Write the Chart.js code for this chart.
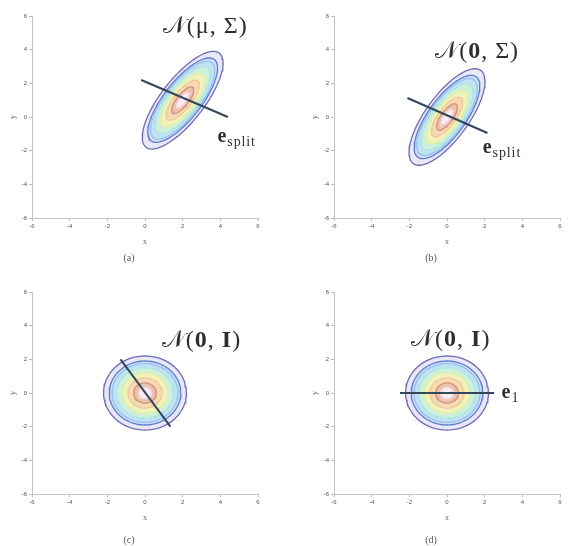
<!DOCTYPE html>
<html><head><meta charset="utf-8">
<script src="https://cdn.jsdelivr.net/npm/chart.js@4"></script>
<style>
html,body{margin:0;padding:0;background:#fff;overflow:hidden;width:568px;height:546px}
.p{position:absolute;width:284px;height:273px}
</style></head><body>
<div class="p" style="left:0;top:0"><canvas id="c0" width="284" height="273"></canvas></div>
<div class="p" style="left:302px;top:0"><canvas id="c1" width="284" height="273"></canvas></div>
<div class="p" style="left:0;top:276px"><canvas id="c2" width="284" height="273"></canvas></div>
<div class="p" style="left:302px;top:276px"><canvas id="c3" width="284" height="273"></canvas></div>
<script>
// ---- data ----
const tickValues = [-6, -4, -2, 0, 2, 4, 6];
const panelCaptions = ['(a)', '(b)', '(c)', '(d)'];
const centerX = [2, 0, 0, 0];
const centerY = [1, 0, 0, 0];
const sdMajor = [1.55, 1.5, 1, 1];
const sdMinor = [0.54, 0.54, 1, 1];
const angleDeg = [56, 58, 0, 0];
const contourLevels = [2.2, 1.9, 1.75, 1.5, 1.2, 0.9, 0.6, 0.35];
const dirLineX1 = [-0.2, -2.1, -1.3, -2.5];
const dirLineY1 = [2.2, 1.13, 2.0, 0];
const dirLineX2 = [4.4, 2.15, 1.35, 2.5];
const dirLineY2 = [0, -0.95, -2.0, 0];
const titleText = ['𝒩(μ, Σ)', '𝒩(**0**, Σ)', '𝒩(**0**, **I**)', '𝒩(**0**, **I**)'];
const titleX = [3.2, 1.6, 3.0, 0.2];
const titleY = [5.35, 3.9, 3.1, 3.15];
const vecLabel = ['**e**_{split}', '**e**_{split}', '', '**e**_{1}'];
const vecX = [3.85, 1.9, 0, 2.9];
const vecY = [-1.2, -1.85, 0, 0];

// ---- styles ----
const levelLine = ['#6e6cb6', '#5f7ccc', '#96c2ec', '#aee6dc', '#e6eea0', '#f0c896', '#d09478', '#f2d4dc'];
const levelFill = ['#e8e8f6', '#d0def4', '#bfe2f4', '#cdf0dc', '#f0f2bc', '#f6dab6', '#ecc2ac', '#fbecf1'];
const FONT = '"Liberation Serif", "DejaVu Serif", serif';
const captionPadTop = [1, 1, 7, 7];

function ellipsePts(i, L) {
  const th = angleDeg[i] * Math.PI / 180, pts = [];
  for (let d = 0; d <= 360; d += 5) {
    const t = d * Math.PI / 180;
    const u = L * sdMajor[i] * Math.cos(t), v = L * sdMinor[i] * Math.sin(t);
    pts.push({x: centerX[i] + u * Math.cos(th) - v * Math.sin(th),
              y: centerY[i] + u * Math.sin(th) + v * Math.cos(th)});
  }
  return pts;
}

function parseSegs(s) {
  const re = /\*\*(.+?)\*\*|_\{(.+?)\}|([^*_]+)/g; const out = []; let m;
  while ((m = re.exec(s))) {
    if (m[1]) out.push({t: m[1], bold: true});
    else if (m[2]) out.push({t: m[2], sub: true});
    else out.push({t: m[3]});
  }
  return out;
}

const labelPlugin = {
  id: 'mathLabels',
  afterDatasetsDraw(chart, args, opts) {
    const {ctx} = chart; const xs = chart.scales.x, ys = chart.scales.y;
    (opts.items || []).forEach(it => {
      if (!it.text) return;
      const segs = parseSegs(it.text);
      const fontOf = sg => (sg.bold ? 'bold ' : '') + (sg.sub ? Math.round(it.size * it.subRatio) : it.size) + 'px ' + FONT;
      ctx.save();
      ctx.letterSpacing = it.spacing + 'px';
      let w = 0;
      segs.forEach(sg => { ctx.font = fontOf(sg); sg.w = ctx.measureText(sg.t).width; w += sg.w; });
      let px = xs.getPixelForValue(it.x); const py = ys.getPixelForValue(it.y);
      if (it.align === 'center') px -= w / 2;
      ctx.fillStyle = '#2e2e2e'; ctx.textBaseline = 'middle'; ctx.textAlign = 'left';
      segs.forEach(sg => {
        ctx.font = fontOf(sg);
        ctx.fillText(sg.t, px, py + (sg.sub ? it.size * 0.28 : 0));
        px += sg.w;
      });
      ctx.restore();
    });
  }
};

for (let i = 0; i < 4; i++) {
  const datasets = [{
    data: [{x: dirLineX1[i], y: dirLineY1[i]}, {x: dirLineX2[i], y: dirLineY2[i]}],
    showLine: true, pointRadius: 0, borderColor: '#34465a', borderWidth: 2, fill: false
  }];
  for (let k = contourLevels.length - 1; k >= 0; k--) {
    datasets.push({
      data: ellipsePts(i, contourLevels[k]), showLine: true, pointRadius: 0,
      borderColor: levelLine[k], borderWidth: 1.3, backgroundColor: levelFill[k], fill: 'shape', tension: 0
    });
  }
  const pt = captionPadTop[i];
  new Chart(document.getElementById('c' + i), {
    type: 'scatter',
    data: {datasets},
    plugins: [labelPlugin],
    options: {
      animation: false, responsive: false, events: [],
      layout: {padding: {left: 0, right: 26, top: 16, bottom: 0}},
      plugins: {
        legend: {display: false}, tooltip: {enabled: false},
        title: {display: true, position: 'bottom', text: panelCaptions[i], color: '#555',
                font: {family: FONT, size: 10, weight: 'normal'}, padding: {top: pt, bottom: 10 - pt}},
        mathLabels: {items: [
          {text: titleText[i], x: titleX[i], y: titleY[i], size: 24, subRatio: 0.65, spacing: 1, align: 'center'},
          {text: vecLabel[i], x: vecX[i], y: vecY[i], size: 20, subRatio: 0.68, spacing: 0.9, align: 'left'}
        ]}
      },
      scales: {
        x: {type: 'linear', min: -6, max: 6,
            afterBuildTicks: s => { s.ticks = tickValues.map(v => ({value: v})); },
            ticks: {font: {size: 6}, color: '#555', padding: 2},
            grid: {drawOnChartArea: false, tickLength: 3, color: '#bbb'},
            border: {color: '#c4c4c4'},
            title: {display: true, text: 'x', color: '#666', font: {family: FONT, size: 8}, padding: {top: 0, bottom: 4}},
            afterFit: s => { s.height = 33; }},
        y: {type: 'linear', min: -6, max: 6,
            afterBuildTicks: s => { s.ticks = tickValues.map(v => ({value: v})); },
            ticks: {font: {size: 6}, color: '#555', padding: 2},
            grid: {drawOnChartArea: false, tickLength: 3, color: '#bbb'},
            border: {color: '#c4c4c4'},
            title: {display: true, text: 'y', color: '#666', font: {family: FONT, size: 8}, padding: {top: 8, bottom: 0}},
            afterFit: s => { s.width = 32; }}
      }
    }
  });
}
</script>
</body></html>
